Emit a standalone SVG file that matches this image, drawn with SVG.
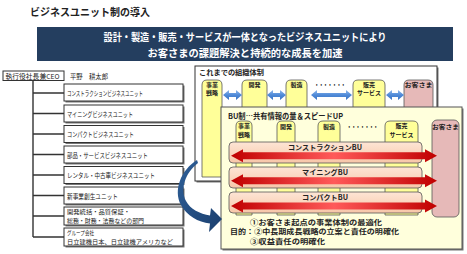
<svg xmlns="http://www.w3.org/2000/svg" width="467" height="254" viewBox="0 0 467 254">
<defs>
<style>
text{font-family:"Noto Sans CJK JP","Noto Sans",sans-serif;fill:#222}
.b{font-weight:bold}
.box{fill:#fff;stroke:#333;stroke-width:1}
.sh{fill:#777}
.col{fill:#ffff99;stroke:#555;stroke-width:0.8}
.pink{fill:#e6b9b8;stroke:#555;stroke-width:0.8}
.bar{fill:url(#barg);stroke:#555;stroke-width:0.8}
.lbl{font-size:6px;font-weight:bold;text-anchor:middle}
.lt{font-size:6.8px}
.lt2{font-size:6.1px}
.ln{stroke:#333;stroke-width:1.4;fill:none}
.barl{font-size:7px;font-weight:bold;text-anchor:middle}
.pt{font-size:6.5px;font-weight:bold}
.dots{font-size:7px;font-weight:bold;text-anchor:middle}
</style>
<linearGradient id="barg" x1="0" y1="0" x2="0" y2="1">
<stop offset="0" stop-color="#fde5d5"/><stop offset="1" stop-color="#f7c6a8"/>
</linearGradient>
<linearGradient id="redg" x1="0" y1="0" x2="1" y2="0">
<stop offset="0" stop-color="#c00000"/><stop offset="0.5" stop-color="#ff5a5a"/><stop offset="1" stop-color="#c00000"/>
</linearGradient>
<linearGradient id="blueg" x1="0" y1="0" x2="0" y2="1">
<stop offset="0" stop-color="#8fb8ec"/><stop offset="0.5" stop-color="#4f8ad8"/><stop offset="1" stop-color="#3a74c4"/>
</linearGradient>
<linearGradient id="curveg" x1="0" y1="0" x2="1" y2="1">
<stop offset="0" stop-color="#2e5f98"/><stop offset="1" stop-color="#1b3f6e"/>
</linearGradient>
</defs>
<rect width="467" height="254" fill="#fff"/>

<g id="title">
<text class="b" x="30" y="16" font-size="10.5" textLength="120" lengthAdjust="spacingAndGlyphs">ビジネスユニット制の導入</text>
</g>

<g id="banner">
<rect x="37" y="27" width="416" height="34" fill="#243e5f"/>
<text class="b" x="245" y="40.5" font-size="10.5" text-anchor="middle" style="fill:#fff" textLength="283" lengthAdjust="spacingAndGlyphs">設計・製造・販売・サービスが一体となったビジネスユニットにより</text>
<text class="b" x="245" y="56.5" font-size="10.5" text-anchor="middle" style="fill:#fff" textLength="195" lengthAdjust="spacingAndGlyphs">お客さまの課題解決と持続的な成長を加速</text>
</g>

<g id="connectors">
<path class="ln" d="M33,80 V237 M33,93 H64 M33,113.5 H64 M33,134 H64 M33,154.5 H64 M33,175 H64 M33,195.5 H64 M33,216 H64 M33,237 H64"/>
</g>

<g id="ceo">
<rect class="box" x="3" y="71" width="61" height="9.5"/>
<text class="lt" x="5.5" y="78.5" font-size="6.5" textLength="54" lengthAdjust="spacingAndGlyphs">執行役社長兼CEO</text>
<text class="lt" x="70" y="78.5" textLength="38" lengthAdjust="spacingAndGlyphs">平野　耕太郎</text>
</g>

<g id="unit-construction">
<rect class="sh" x="65.5" y="85.5" width="119" height="17"/>
<rect class="box" x="64" y="84" width="119" height="17"/>
<text class="lt" x="67" y="96" textLength="76" lengthAdjust="spacingAndGlyphs">コンストラクションビジネスユニット</text>
</g>
<g id="unit-mining">
<rect class="sh" x="65.5" y="106.5" width="119" height="17"/>
<rect class="box" x="64" y="105" width="119" height="17"/>
<text class="lt" x="67" y="116.5" textLength="66" lengthAdjust="spacingAndGlyphs">マイニングビジネスユニット</text>
</g>
<g id="unit-compact">
<rect class="sh" x="65.5" y="127" width="119" height="17"/>
<rect class="box" x="64" y="125.5" width="119" height="17"/>
<text class="lt" x="67" y="137" textLength="67" lengthAdjust="spacingAndGlyphs">コンパクトビジネスユニット</text>
</g>
<g id="unit-parts">
<rect class="sh" x="65.5" y="147.5" width="119" height="17"/>
<rect class="box" x="64" y="146" width="119" height="17"/>
<text class="lt" x="67" y="157.5" textLength="81" lengthAdjust="spacingAndGlyphs">部品・サービスビジネスユニット</text>
</g>
<g id="unit-rental">
<rect class="sh" x="65.5" y="168" width="119" height="17"/>
<rect class="box" x="64" y="166.5" width="119" height="17"/>
<text class="lt" x="67" y="178" textLength="88" lengthAdjust="spacingAndGlyphs">レンタル・中古車ビジネスユニット</text>
</g>
<g id="unit-new">
<rect class="sh" x="65.5" y="188.5" width="119" height="17"/>
<rect class="box" x="64" y="187" width="119" height="17"/>
<text class="lt" x="67" y="198.5" textLength="51" lengthAdjust="spacingAndGlyphs">新事業創生ユニット</text>
</g>
<g id="unit-corporate">
<rect class="sh" x="65.5" y="208.5" width="119" height="18"/>
<rect class="box" x="64" y="207" width="119" height="18"/>
<text class="lt2" x="67" y="214" textLength="63" lengthAdjust="spacingAndGlyphs">開発統括・品質保証・</text>
<text class="lt2" x="67" y="223" textLength="77" lengthAdjust="spacingAndGlyphs">総務・財務・法務などの部門</text>
</g>
<g id="unit-group">
<rect class="sh" x="65.5" y="229.5" width="119" height="18"/>
<rect class="box" x="64" y="228" width="119" height="18"/>
<text class="lt2" x="67" y="234.8" textLength="27" lengthAdjust="spacingAndGlyphs">グループ会社</text>
<text class="lt2" x="67" y="243.8" textLength="106" lengthAdjust="spacingAndGlyphs">日立建機日本、日立建機アメリカなど</text>
</g>

<g id="old-structure">
<rect class="sh" x="196.5" y="67.5" width="242" height="115"/>
<rect class="box" x="195" y="66" width="242" height="115"/>
<text class="b" x="199" y="75" font-size="7" textLength="65" lengthAdjust="spacingAndGlyphs">これまでの組織体制</text>
<path class="col" d="M202,177 V85 Q202,80 207,80 H217 Q222,80 222,85 V177 Z"/>
<path class="col" d="M242,177 V85 Q242,80 247,80 H262 Q267,80 267,85 V177 Z"/>
<path class="col" d="M286,177 V85 Q286,80 291,80 H302 Q307,80 307,85 V177 Z"/>
<path class="col" d="M353,177 V85 Q353,80 358,80 H380 Q385,80 385,85 V177 Z"/>
<path class="pink" d="M404,177 V85 Q404,80 409,80 H428 Q433,80 433,85 V177 Z"/>
<text class="lbl" x="212" y="86.5">事業</text>
<text class="lbl" x="212" y="95.3">戦略</text>
<text class="lbl" x="254.5" y="87">開発</text>
<text class="lbl" x="296.5" y="87">製造</text>
<text class="lbl" x="369" y="86.5">販売</text>
<text class="lbl" x="369" y="95.3">サービス</text>
<text class="lbl" x="418.5" y="87" textLength="28" lengthAdjust="spacingAndGlyphs">お客さま</text>
<text class="dots" x="330" y="87" textLength="31" lengthAdjust="spacingAndGlyphs">・・・・・・・</text>
<g fill="url(#blueg)">
<path d="M223,95 L229,90 V93 H236 V90 L242,95 L236,100 V97 H229 V100 Z"/>
<path d="M267,95 L273,90 V93 H280 V90 L286,95 L280,100 V97 H273 V100 Z"/>
<path d="M311,95 L317,90 V93 H346 V90 L352,95 L346,100 V97 H317 V100 Z"/>
<path d="M386,95 L392,90 V93 H398 V90 L404,95 L398,100 V97 H392 V100 Z"/>
</g>
</g>

<g id="bu-structure">
<rect class="sh" x="222.5" y="108.5" width="241" height="142"/>
<rect x="221" y="107" width="241" height="142" fill="#ffffdc" stroke="#555" stroke-width="1"/>
<text class="b" x="228" y="119" font-size="7.5" textLength="115" lengthAdjust="spacingAndGlyphs">BU制…共有情報の量＆スピードUP</text>
<path class="col" d="M236,215 V126 Q236,121 241,121 H247 Q252,121 252,126 V215 Z"/>
<path class="col" d="M277,215 V126 Q277,121 282,121 H290 Q295,121 295,126 V215 Z"/>
<path class="col" d="M318,215 V126 Q318,121 323,121 H335 Q340,121 340,126 V215 Z"/>
<path class="col" d="M385,215 V126 Q385,121 390,121 H413 Q418,121 418,126 V215 Z"/>
<rect class="pink" x="432" y="120" width="27" height="97" rx="5"/>
<text class="lbl" x="244" y="128">事業</text>
<text class="lbl" x="244" y="136.8">戦略</text>
<text class="lbl" x="286" y="128.5">開発</text>
<text class="lbl" x="329" y="128.5">製造</text>
<text class="lbl" x="401.5" y="128">販売</text>
<text class="lbl" x="401.5" y="136.8">サービス</text>
<text class="lbl" x="445.5" y="128.5" textLength="27" lengthAdjust="spacingAndGlyphs">お客さま</text>
<text class="dots" x="362.5" y="129" textLength="31" lengthAdjust="spacingAndGlyphs">・・・・・・・</text>
</g>

<g id="bu-construction">
<rect class="bar" x="229" y="142" width="193" height="21" rx="4"/>
<text class="barl" x="325" y="150" textLength="74" lengthAdjust="spacingAndGlyphs">コンストラクションBU</text>
</g>
<g id="bu-mining">
<rect class="bar" x="229" y="167" width="193" height="21" rx="4"/>
<text class="barl" x="325" y="175" textLength="46" lengthAdjust="spacingAndGlyphs">マイニングBU</text>
</g>
<g id="bu-compact">
<rect class="bar" x="229" y="192" width="193" height="21" rx="4"/>
<text class="barl" x="325" y="200" textLength="46" lengthAdjust="spacingAndGlyphs">コンパクトBU</text>
</g>

<g id="bu-arrows" fill="url(#redg)">
<path d="M231,155.7 L243,149.2 V152.2 H425 V149.2 L437,155.7 L425,162.2 V159.2 H243 V162.2 Z"/>
<path d="M231,180.7 L243,174.2 V177.2 H425 V174.2 L437,180.7 L425,187.2 V184.2 H243 V187.2 Z"/>
<path d="M231,206 L243,199.5 V202.5 H425 V199.5 L437,206 L425,212.5 V209.5 H243 V212.5 Z"/>
</g>

<g id="purpose">
<text class="pt" x="250" y="224.5" textLength="132" lengthAdjust="spacingAndGlyphs">①お客さま起点の事業体制の最適化</text>
<text class="pt" x="230" y="234" textLength="169" lengthAdjust="spacingAndGlyphs">目的：②中長期成長戦略の立案と責任の明確化</text>
<text class="pt" x="250" y="243.5" textLength="75" lengthAdjust="spacingAndGlyphs">③収益責任の明確化</text>
</g>

<g id="transition-arrow">
<path fill="url(#curveg)" d="M197,160 C181,170 173,190 181,205 C187,216 198,222 210,223.5 L209,232 L222,219 L211,208 L210,215.5 C200,214 190,209 186,201 C180,189 185,173 198,163 Z"/>
</g>
</svg>
